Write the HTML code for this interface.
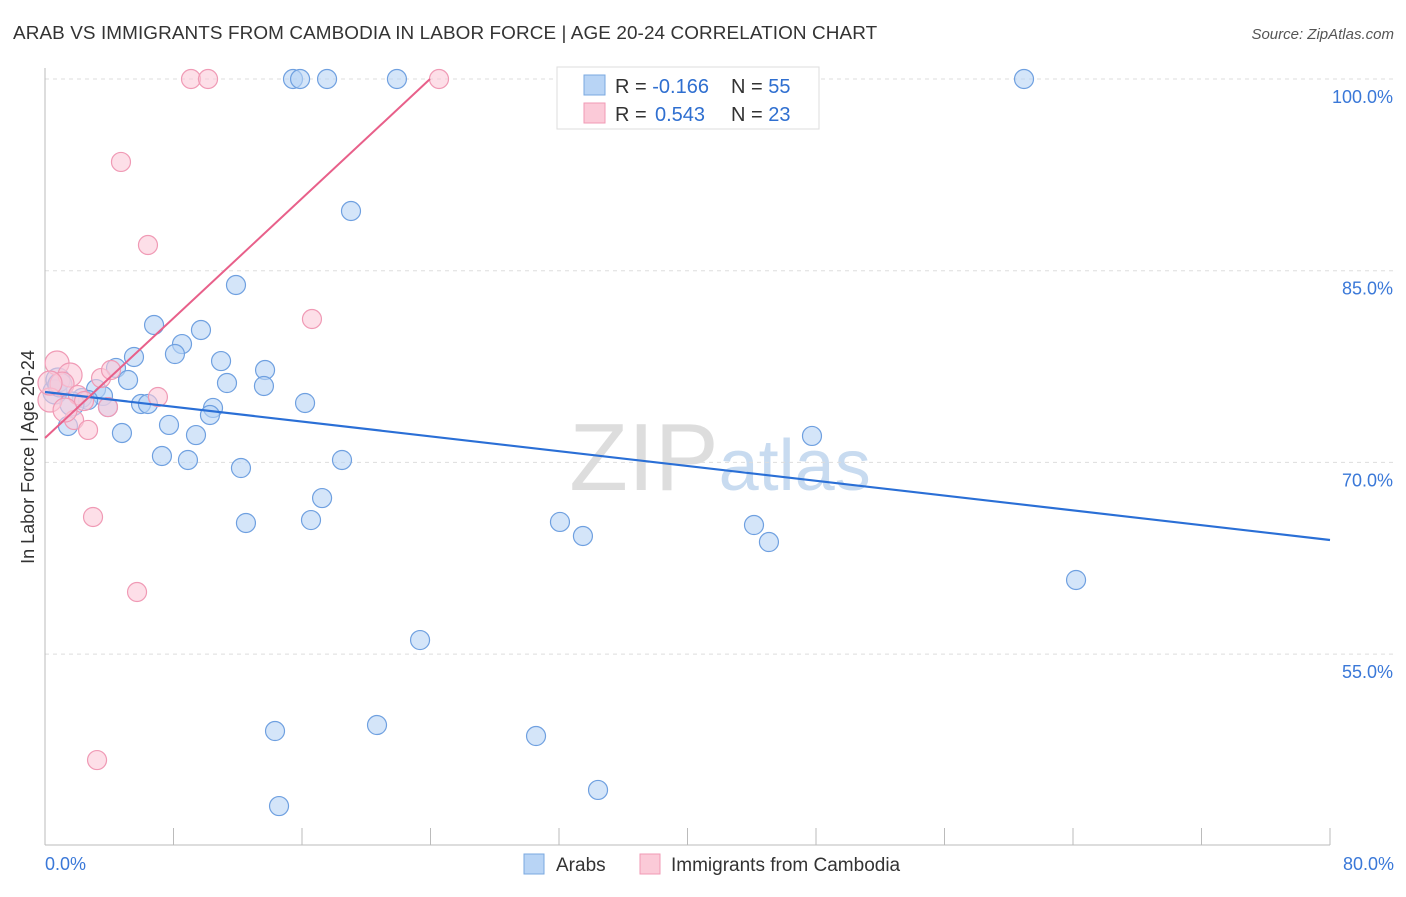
<!DOCTYPE html>
<html><head><meta charset="utf-8"><style>
body{margin:0;background:#fff;font-family:"Liberation Sans",sans-serif}
svg text{font-family:"Liberation Sans",sans-serif}
</style></head><body>
<svg id="chart" width="1406" height="892" xmlns="http://www.w3.org/2000/svg">
<text x="13" y="39" font-size="18.9" fill="#333" letter-spacing="0.1">ARAB VS IMMIGRANTS FROM CAMBODIA IN LABOR FORCE | AGE 20-24 CORRELATION CHART</text>
<text x="1394" y="39" font-size="15" fill="#555" font-style="italic" text-anchor="end">Source: ZipAtlas.com</text>
<text x="720" y="490" font-size="96" text-anchor="middle" fill="#ddd" font-family="Liberation Serif">ZIP<tspan fill="#c8dbf0" font-family="Liberation Sans" font-size="72">atlas</tspan></text>
<text transform="translate(34,457) rotate(-90)" font-size="18" fill="#333" text-anchor="middle">In Labor Force | Age 20-24</text>
<g id="grid"></g><g id="axes"></g><g id="pts"></g><g id="lines"></g>
<g>
<rect x="557" y="67" width="262" height="62" fill="#fff" stroke="#ddd"/>
<rect x="584" y="75" width="21" height="20" fill="#b8d4f5" stroke="#7aa8e0"/>
<rect x="584" y="103" width="21" height="20" fill="#fbcad8" stroke="#f09ab5"/>
<text x="615" y="93" font-size="20" fill="#333">R = <tspan fill="#2f6fd0">-0.166</tspan><tspan x="731">N = </tspan><tspan fill="#2f6fd0">55</tspan></text>
<text x="615" y="121" font-size="20" fill="#333">R = <tspan fill="#2f6fd0" x="655">0.543</tspan><tspan x="731">N = </tspan><tspan fill="#2f6fd0">23</tspan></text>
</g>
<g>
<rect x="524" y="854" width="20" height="20" fill="#b8d4f5" stroke="#7aa8e0"/>
<text x="556" y="871" font-size="19" fill="#333">Arabs</text>
<rect x="640" y="854" width="20" height="20" fill="#fbcad8" stroke="#f09ab5"/>
<text x="671" y="871" font-size="19" fill="#333">Immigrants from Cambodia</text>
</g>
</svg>
<script>
const blueX=[15.44,15.88,17.56,21.91,60.95,19.05,11.89,6.79,9.71,8.53,8.09,5.54,10.96,4.42,13.70,5.17,11.33,13.63,3.18,3.61,2.30,0.62,0.81,0.93,5.98,6.41,16.19,10.46,10.27,7.72,1.43,9.40,4.79,47.75,7.28,8.90,18.49,12.20,17.25,12.51,16.56,32.06,33.49,44.14,45.07,64.19,23.35,20.67,14.32,30.57,34.43,14.57,2.68,3.92,1.68];
const blueY=[100,100,100,100,100,89.67,83.88,80.75,80.36,79.26,78.48,78.25,77.93,77.39,77.23,76.45,76.21,75.98,75.74,75.20,75.04,75.51,76.45,76.06,74.57,74.57,74.65,74.26,73.71,72.93,72.85,72.14,72.30,72.07,70.50,70.19,70.19,69.56,67.21,65.26,65.49,65.34,64.24,65.10,63.77,60.80,56.10,49.45,48.98,48.59,44.37,43.11,74.88,74.33,74.57];
const pinkX=[9.09,10.15,24.53,4.73,6.41,16.62,0.75,1.56,3.49,4.11,7.03,1.06,0.31,2.05,3.92,1.81,2.68,2.99,5.73,3.24,0.31,2.43,1.25];
const pinkY=[100,100,100,93.51,87.01,81.22,77.78,76.84,76.60,77.23,75.12,76.13,74.88,75.27,74.33,73.32,72.54,65.73,59.86,46.71,76.21,74.80,74.10];
const blueTrend=[75.51,63.93];
const pinkTrend=[71.91,100];
const pinkTrendEndX=23.97;
const yTicks=[100,85,70,55];
const xTickLabels=["0.0%","80.0%"];
const NS="http://www.w3.org/2000/svg";
const xs=v=>45+v/80*1285, ys=v=>79+(100-v)/15*191.7;
function mk(g,t,a){const e=document.createElementNS(NS,t);for(const k in a)e.setAttribute(k,a[k]);document.getElementById(g).appendChild(e);return e;}
yTicks.forEach(v=>{
 const l=mk('grid','line',{x1:45,x2:1394,y1:ys(v),y2:ys(v),stroke:'#ddd','stroke-dasharray':'4,4'});
 
 
 const t=mk('grid','text',{x:1393,y:ys(v)+24,'font-size':18,fill:'#3a78d8','text-anchor':'end'});t.textContent=v.toFixed(1)+'%';
 
 
});
const ax=mk('axes','line',{x1:45,x2:45,y1:68,y2:845,stroke:'#bbb'});


const bx=mk('axes','line',{x1:45,x2:1330,y1:845,y2:845,stroke:'#bbb'});


for(let i=1;i<=10;i++){const t=mk('axes','line',{x1:xs(i*8),x2:xs(i*8),y1:828,y2:845,stroke:'#bbb'});
 
 }
[[0,45,'start'],[80,1394,'end']].forEach((d,i)=>{const t=mk('axes','text',{x:d[1],y:870,'font-size':18,fill:'#3a78d8','text-anchor':d[2]});t.textContent=xTickLabels[i];
 
 });
function pts(X,Y,f,s,name){X.forEach((x,i)=>{const r=(x<2&&Y[i]>74&&Y[i]<78)?12:9.5;
 const c=mk('pts','circle',{cx:xs(x),cy:ys(Y[i]),r:r,fill:f,'fill-opacity':0.6,stroke:s,'stroke-width':1.2});
 
 });}
pts(blueX,blueY,'#b8d4f5','#6fa0e0','arab-point');
pts(pinkX,pinkY,'#fbcad8','#f09ab5','cambodia-point');
const bl=mk('lines','line',{x1:xs(0),y1:ys(blueTrend[0]),x2:xs(80),y2:ys(blueTrend[1]),stroke:'#2a6fd6','stroke-width':2.2});


const pl=mk('lines','line',{x1:xs(0),y1:ys(pinkTrend[0]),x2:xs(pinkTrendEndX),y2:ys(pinkTrend[1]),stroke:'#e8608a','stroke-width':2});


</script>
</body></html>
